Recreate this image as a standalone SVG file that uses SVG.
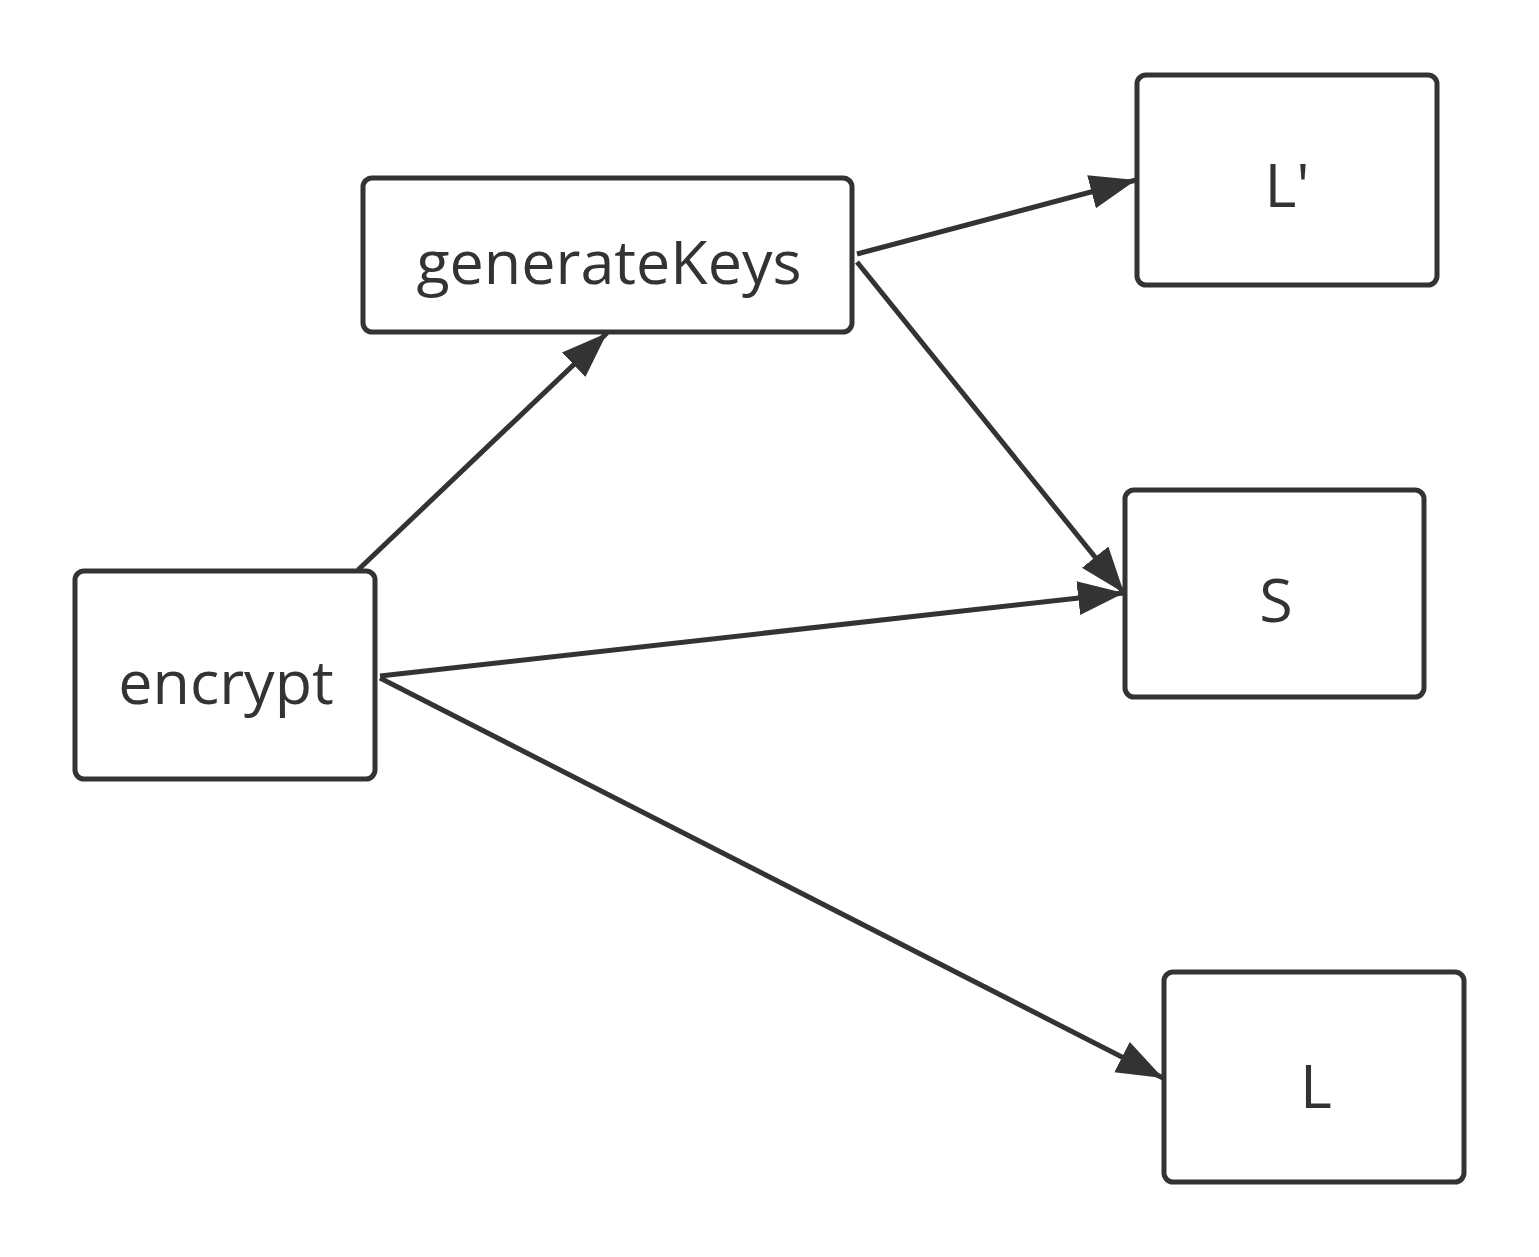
<svg xmlns="http://www.w3.org/2000/svg" width="1539" height="1257" viewBox="0 0 1539 1257">
<style>
.node rect{fill:#fff;stroke:#333;stroke-width:5}
.node text{font-family:"Open Sans","Noto Sans","DejaVu Sans",sans-serif;font-size:61px;fill:#333;text-anchor:middle;dominant-baseline:central}
.edge{stroke:#333;stroke-width:5;fill:none;marker-end:url(#arr)}
</style>
<defs>
<marker id="arr" markerUnits="userSpaceOnUse" markerWidth="50" markerHeight="40" refX="46" refY="17" orient="auto">
<path d="M0,0 L46,17 L0,34 Z" fill="#333"/>
</marker>
</defs>
<rect width="1539" height="1257" fill="#fff"/>
<g id="connectors">
<path class="edge" d="M358,570 L607,333"/>
<path class="edge" d="M857,254 L1136,180"/>
<path class="edge" d="M857,262 L1124,593"/>
<path class="edge" d="M380,676 L1124,593"/>
<path class="edge" d="M380,678 L1163,1078"/>
</g>
<g id="generateKeys" class="node"><rect x="363" y="178" width="489" height="154" rx="9"/><text x="609" y="260">generateKeys</text></g>
<g id="encrypt" class="node"><rect x="75" y="571" width="300" height="208" rx="9"/><text x="226" y="680">encrypt</text></g>
<g id="Lprime" class="node"><rect x="1137" y="75" width="300" height="210" rx="9"/><text x="1287" y="183">L'</text></g>
<g id="S" class="node"><rect x="1125" y="490" width="299" height="207" rx="9"/><text x="1276" y="598">S</text></g>
<g id="L" class="node"><rect x="1164" y="972" width="300" height="210" rx="9"/><text x="1316" y="1084">L</text></g>
</svg>
